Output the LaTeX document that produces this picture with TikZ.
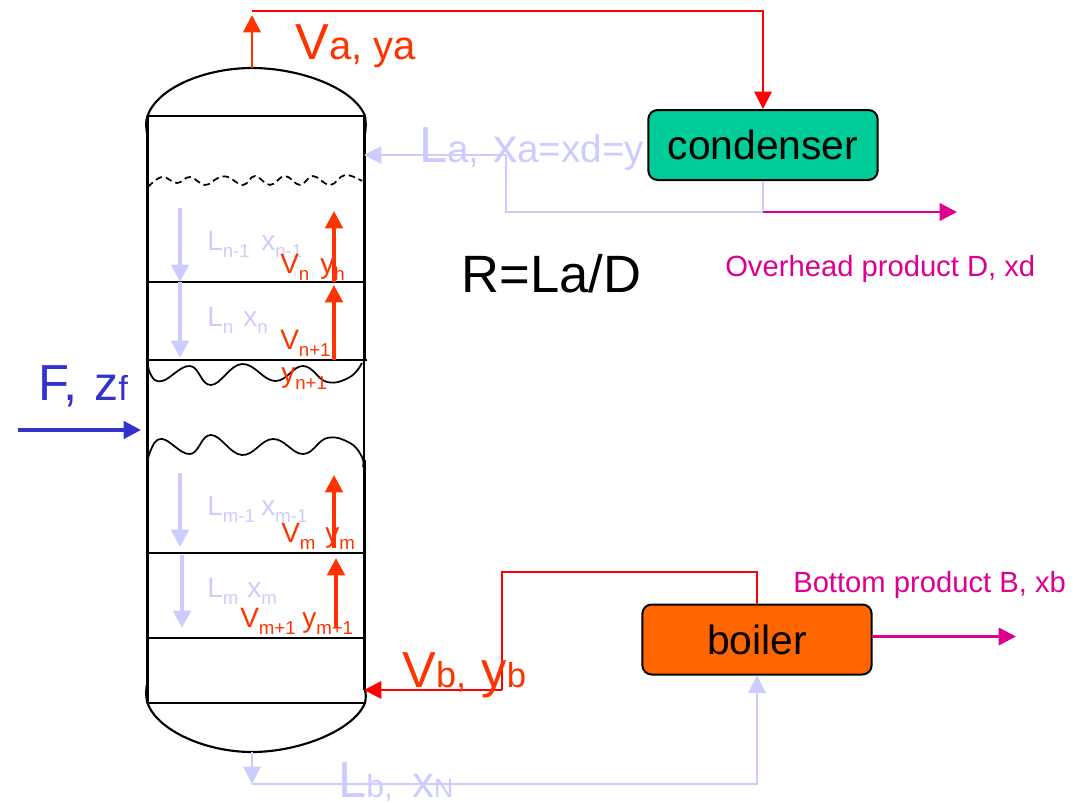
\documentclass[tikz,border=0pt]{standalone}
\usepackage{fontspec}
\setmainfont{Liberation Sans}
\usetikzlibrary{arrows.meta}
\definecolor{lav}{HTML}{CCCCFF}
\definecolor{orred}{HTML}{FF3300}
\definecolor{pure}{HTML}{FF0000}
\definecolor{mag}{HTML}{DD0090}
\definecolor{feed}{HTML}{3333CC}
\definecolor{cond}{HTML}{00CC99}
\definecolor{boil}{HTML}{FF6600}
\newcommand\sz[2]{{\fontsize{#1}{#1}\selectfont #2}}
\newcommand\subs[1]{\raisebox{-5.5pt}{\sz{14}{#1}}}
\tikzset{
 x=.75pt,y=-.75pt,
 wall/.style={draw=black,line width=1.6pt},
 tray/.style={draw=black,line width=1.6pt},
 wave/.style={draw=black,line width=1.3pt,smooth,tension=.7},
 box/.style={draw=black,line width=1.5pt,rounded corners=7pt,minimum width=172pt,minimum height=52.5pt,inner sep=0pt,font=\fontsize{30.6}{30.6}\selectfont},
 txt/.style={anchor=base west,inner sep=0pt},
 lavl/.style={draw=lav,line width=1.7pt},
 redl/.style={draw=pure,line width=1.5pt},
 lavup/.style={draw=lav,line width=3pt,-{Triangle[length=13pt,width=13pt]}},
 orup/.style={draw=orred,line width=3pt,-{Triangle[length=13pt,width=13pt]}},
 bigtip/.style={-{Triangle[length=13pt,width=13pt]}},
}
\begin{document}
\begin{tikzpicture}
\useasboundingbox (0,0) rectangle (1086,803);
% named points
\coordinate (tl) at (147.5,116); \coordinate (tr) at (364.5,116);
\coordinate (bl) at (147.5,703); \coordinate (br) at (364.5,703);
\coordinate (top) at (252,68); \coordinate (bot) at (252,752);
\coordinate (vtop) at (252,11); \coordinate (vcorn) at (763,11);
\coordinate (lain) at (364,155); \coordinate (lajoin) at (506,155);
\coordinate (lalow) at (506,212); \coordinate (condlow) at (763,212);
\coordinate (dout) at (957,212);
\coordinate (vbin) at (364,690); \coordinate (vbj) at (501.5,690);
\coordinate (vbup) at (501.5,572); \coordinate (vbr) at (757,572);
\coordinate (lbd) at (252,784); \coordinate (lbr) at (757,784);
\coordinate (bout) at (1016,636.5);
\coordinate (fs) at (18,430); \coordinate (fe) at (141,430);
% boxes
\node[box,fill=cond] (condenser) at (763,145) {condenser};
\node[box,fill=boil] (boiler) at (757,639.5) {boiler};
% column
\draw[wall] (147.5,116) -- (147.5,703);
\draw[wall,line width=2.2pt] (364.5,116) -- (364.5,360);
\draw[wall,line width=1.2pt] (364,360) -- (364,460);
\draw[wall,line width=2.2pt] (364.5,460) -- (364.5,690);
\draw[wall] (147.3,134) .. controls (145.5,126) and (146,120) .. (147.5,116)
  .. controls (157,88) and (205,68) .. (top) .. controls (300,68) and (354,88) .. (365,116)
  .. controls (366,122) and (366,128) .. (365,134);
\draw[wall] (147.3,683) .. controls (145.5,691) and (146,698) .. (147.5,703)
  .. controls (157,730) and (205,752) .. (bot) .. controls (300,752) and (354,730) .. (365,703)
  .. controls (366,698) and (366,694) .. (365,690);
\draw[tray] (tl) -- (tr);
\draw[tray] (148,282) -- (366,282);
\draw[tray] (148,360) -- (367,360);
\draw[tray] (148,553) -- (366,553);
\draw[tray] (146,638) -- (364,638);
\draw[tray] (bl) -- (br);
% waves
\draw[wave,dash pattern=on 5pt off 3pt] plot coordinates {(148,187) (162,177) (177,183) (190,177) (205,185) (218,178) (228,177) (243,185) (255,176) (270,185) (285,176) (300,185) (313,176) (330,185) (345,175) (362,181)};
\draw[wave] plot coordinates {(147,352) (150,373) (162,381) (190,366) (211,385) (242,364) (275,381) (303,366) (327,382) (350,377) (362,363)};
\draw[wave] plot coordinates {(147,470) (150,452) (162,439) (190,454) (211,435) (242,455) (273,439) (303,454) (327,438) (350,443) (362,457) (363,467)};
% internal arrows
\draw[lavup] (180,208) -- (180,282);
\draw[lavup] (180,282) -- (180,358);
\draw[lavup] (180,473) -- (180,547);
\draw[lavup] (182,555) -- (182,628);
\draw[orup] (334,282) -- (334,211);
\draw[orup] (334,360) -- (334,285);
\draw[orup] (334,548) -- (334,475);
\draw[orup] (336,628) -- (336,558);
% piping
\draw[draw=orred,line width=2pt,bigtip] (top) -- (252,15);
\draw[redl,bigtip] (vtop) -- (vcorn) -- (condenser.north);
\draw[lavl,bigtip] (lajoin) -- (lain);
\draw[lavl] (lajoin) -- (lalow) -- (condlow) -- (condenser.south);
\draw[draw=mag,line width=1.9pt,bigtip] (condlow) -- (dout);
\draw[redl,line width=2pt,bigtip] (vbj) -- (vbin);
\draw[redl] (vbj) -- (vbup) -- (vbr) -- (boiler.north);
\draw[lavl,bigtip] (bot) -- (lbd);
\draw[lavl,bigtip] (lbd) -- (lbr) -- (boiler.south);
\draw[draw=mag,line width=1.9pt,bigtip] (boiler.east |- bout) -- (bout);
\draw[draw=feed,line width=2.6pt,bigtip] (fs) -- (fe);
% labels
\node[txt,text=orred] (tva) at (295,60) {\sz{38}{V}\sz{30}{a, ya}};
\node[txt,text=lav] (tla) at (419,162) {\sz{38}{L}\sz{29}{a, }\hspace{2pt}\sz{36}{x}\sz{29}{a=xd=y}};
\node[txt,text=orred] (tvb) at (402,687) {\sz{38}{V}\sz{27}{b, }\hspace{4pt}\sz{38}{y}\sz{26}{b}};
\node[txt,text=lav] (tlb) at (338,797) {\sz{38}{L}\sz{24}{b, }\hspace{7.5pt}\sz{33}{x}\sz{20}{N}};
\node[txt,text=feed] (tf) at (38,400) {\sz{38}{F, }\hspace{2pt}\sz{36}{z}\sz{26}{f}};
\node[txt] (tratio) at (461.5,292) {\sz{39.4}{R=La/D}};
\node[txt,text=mag] (tod) at (725,276) {\sz{21.9}{Overhead product D, xd}};
\node[txt,text=mag] (tbp) at (793,592) {\sz{21.9}{Bottom product B, xb}};
\node[txt,text=lav] (l1) at (207,250) {\sz{21}{L}\subs{n-1}};
\node[txt,text=lav] (x1) at (261,250) {\sz{21}{x}\subs{n-1}};
\node[txt,text=orred] (v1) at (280,273) {\sz{21}{V}\subs{n}};
\node[txt,text=orred] (y1) at (320,273) {\sz{21}{y}\subs{h}};
\node[txt,text=lav] (l2) at (207,326) {\sz{21}{L}\subs{n}};
\node[txt,text=lav] (x2) at (243,326) {\sz{21}{x}\subs{n}};
\node[txt,text=orred] (v2) at (280,349) {\sz{21}{V}\subs{n+1}};
\node[txt,text=orred] (y2) at (281,382) {\sz{21}{y}\subs{n+1}};
\node[txt,text=lav] (l3) at (207,515) {\sz{21}{L}\subs{m-1}};
\node[txt,text=lav] (x3) at (261,515) {\sz{21}{x}\subs{m-1}};
\node[txt,text=orred] (v3) at (281,542) {\sz{21}{V}\subs{m}};
\node[txt,text=orred] (y3) at (325,542) {\sz{21}{y}\subs{m}};
\node[txt,text=lav] (l4) at (207,597) {\sz{21}{L}\subs{m}};
\node[txt,text=lav] (x4) at (247,597) {\sz{21}{x}\subs{m}};
\node[txt,text=orred] (v4) at (240,627) {\sz{21}{V}\subs{m+1}};
\node[txt,text=orred] (y4) at (302,627) {\sz{21}{y}\subs{m+1}};
\end{tikzpicture}
\end{document}
